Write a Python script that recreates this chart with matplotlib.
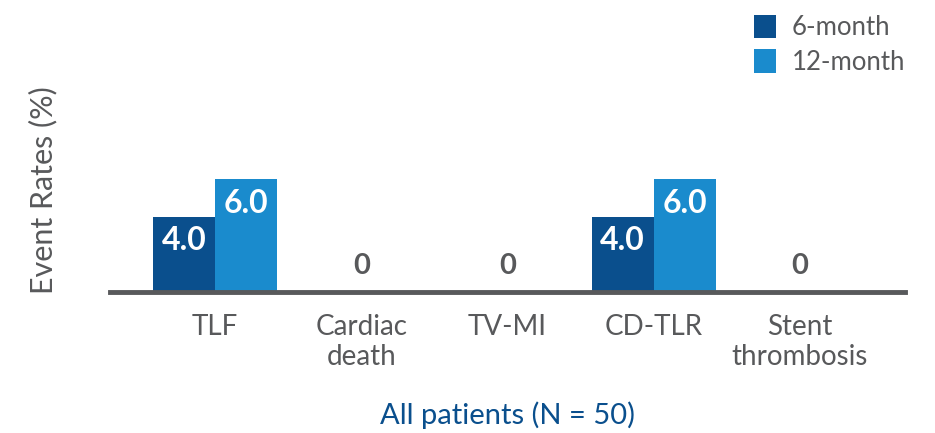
import numpy as np
import matplotlib.pyplot as plt

plt.rcParams['font.family'] = ['Lato', 'DejaVu Sans']

# data
categories = ['TLF', 'Cardiac\ndeath', 'TV-MI', 'CD-TLR', 'Stent\nthrombosis']
six_month = [4.0, 0, 0, 4.0, 0]
twelve_month = [6.0, 0, 0, 6.0, 0]
series_names = ['6-month', '12-month']

dark_blue = '#0A4F8D'
light_blue = '#1A8BCD'
grey = '#58595B'

fig = plt.figure(figsize=(9.35, 4.33), dpi=100)
ax = fig.add_axes([110 / 935, (433 - 292) / 433, 795 / 935, 272 / 433])

x = np.arange(len(categories))
w = 0.425
ax.bar(x - w / 2, six_month, w, color=dark_blue, label=series_names[0])
ax.bar(x + w / 2, twelve_month, w, color=light_blue, label=series_names[1])

for i in range(len(categories)):
    if six_month[i] == 0 and twelve_month[i] == 0:
        ax.text(x[i], 0.7, '0', ha='center', va='bottom', color=grey,
                fontsize=21, fontweight='bold')
        continue
    for xs, v in [(x[i] - w / 2, six_month[i]), (x[i] + w / 2, twelve_month[i])]:
        ax.text(xs, v - 0.5, f'{v:.1f}', ha='center', va='top', color='white',
                fontsize=23, fontweight='bold')

ax.set_xlim(-0.72, len(categories) - 1 + 0.72)
ax.set_ylim(0, 14.47)

for s in ['top', 'right', 'left']:
    ax.spines[s].set_visible(False)
ax.spines['bottom'].set_color(grey)
ax.spines['bottom'].set_linewidth(3.5)
ax.set_yticks([])
ax.set_xticks(x)
ax.set_xticklabels(categories, fontsize=20, color=grey, linespacing=1.2)
ax.tick_params(axis='x', length=0, pad=16)

ax.set_ylabel('Event Rates (%)', fontsize=22, color=grey)
ax.yaxis.set_label_coords(-0.066, 0.375)
ax.set_xlabel('All patients (N = 50)', fontsize=21, color=dark_blue, labelpad=22)

leg = ax.legend(loc='upper right', bbox_to_anchor=(1.0, 1.02), frameon=False,
                fontsize=18.5, handlelength=0.85, handleheight=1.05, handletextpad=0.6,
                labelspacing=0.35, borderaxespad=0, borderpad=0)
for t in leg.get_texts():
    t.set_color(grey)

plt.savefig('out.png', dpi=100)
